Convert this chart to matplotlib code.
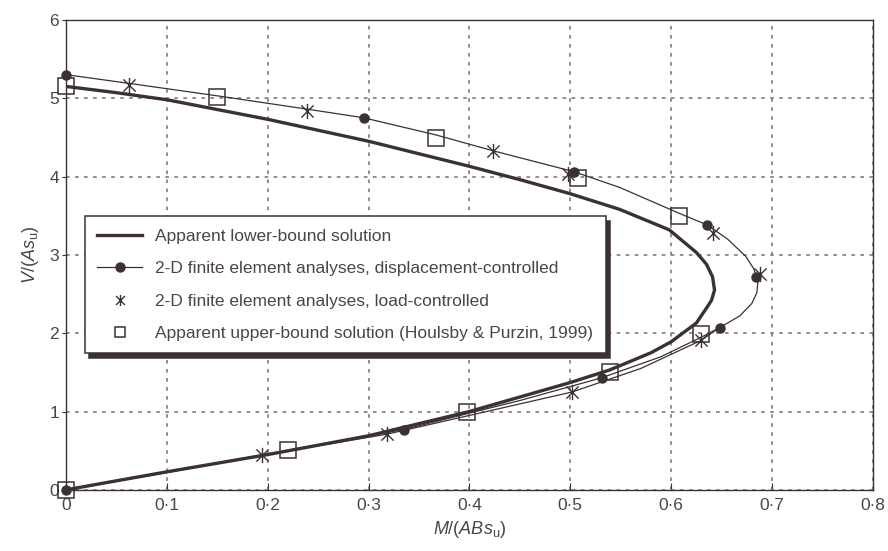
import matplotlib
matplotlib.use('Agg')
import matplotlib.pyplot as plt
from matplotlib.path import Path
from matplotlib.lines import Line2D

INK = '#3b3131'
TEXT = '#4d4545'
GRID = '#8c8484'

plt.rcParams['font.family'] = ['Liberation Sans', 'DejaVu Sans']
plt.rcParams['mathtext.fontset'] = 'custom'
plt.rcParams['mathtext.rm'] = 'Liberation Sans'
plt.rcParams['mathtext.it'] = 'Liberation Sans:italic'

# apparent lower-bound solution (thick curve)
lb_m = [0, 0.05, 0.1, 0.2, 0.3, 0.4, 0.45, 0.5, 0.549, 0.598, 0.625, 0.635,
        0.641, 0.643, 0.64, 0.635, 0.625, 0.6, 0.58, 0.539, 0.5, 0.4, 0.3, 0.2, 0.1, 0]
lb_v = [5.15, 5.07, 4.98, 4.73, 4.45, 4.13, 3.96, 3.78, 3.58, 3.32, 3.03, 2.88,
        2.72, 2.55, 2.42, 2.32, 2.13, 1.89, 1.75, 1.53, 1.37, 1.0, 0.69, 0.45, 0.23, 0]

# thin curve through displacement-controlled results
dc_line_m = [0, 0.062, 0.15, 0.239, 0.295, 0.367, 0.423, 0.504, 0.549, 0.608, 0.636,
             0.656, 0.674, 0.682, 0.686, 0.685, 0.680, 0.668, 0.648, 0.63, 0.59, 0.531,
             0.45, 0.335, 0.2, 0.1, 0]
dc_line_v = [5.30, 5.19, 5.03, 4.86, 4.75, 4.53, 4.33, 4.06, 3.86, 3.53, 3.38,
             3.2, 2.98, 2.82, 2.66, 2.52, 2.38, 2.22, 2.07, 1.95, 1.7, 1.43,
             1.14, 0.77, 0.46, 0.23, 0]

# thin line through load-controlled results (lower branch)
lc_line_m = [0.648, 0.63, 0.57, 0.502, 0.4, 0.318, 0.194, 0.1, 0]
lc_line_v = [2.07, 1.91, 1.55, 1.25, 0.95, 0.71, 0.44, 0.22, 0]

# displacement-controlled points
dc_m = [0, 0.295, 0.504, 0.636, 0.684, 0.648, 0.531, 0.335, 0]
dc_v = [5.30, 4.75, 4.06, 3.38, 2.72, 2.07, 1.43, 0.77, 0]

# load-controlled points
lc_m = [0.062, 0.239, 0.423, 0.498, 0.641, 0.688, 0.630, 0.502, 0.318, 0.194]
lc_v = [5.17, 4.84, 4.32, 4.03, 3.28, 2.76, 1.91, 1.25, 0.71, 0.44]

# apparent upper-bound solution
ub_m = [0, 0.15, 0.367, 0.508, 0.608, 0.630, 0.539, 0.398, 0.22, 0]
ub_v = [5.15, 5.01, 4.49, 3.98, 3.49, 1.99, 1.51, 1.0, 0.51, 0]

x_ticks = [0, 0.1, 0.2, 0.3, 0.4, 0.5, 0.6, 0.7, 0.8]
x_labels = ['0', '0·1', '0·2', '0·3', '0·4', '0·5', '0·6', '0·7', '0·8']
y_ticks = [0, 1, 2, 3, 4, 5, 6]

labels = ['Apparent lower-bound solution',
          '2-D finite element analyses, displacement-controlled',
          '2-D finite element analyses, load-controlled',
          'Apparent upper-bound solution (Houlsby & Purzin, 1999)']

# asterisk marker: vertical stroke plus an X
star = Path([(0, -1), (0, 1), (-0.8, -0.8), (0.8, 0.8), (-0.8, 0.8), (0.8, -0.8)],
            [Path.MOVETO, Path.LINETO] * 3)

fig = plt.figure(figsize=(8.88, 5.51), dpi=100)
ax = fig.add_axes([0.0743, 0.111, 0.9087, 0.853])

ax.plot(lb_m, lb_v, color=INK, lw=2.4, zorder=3, solid_joinstyle='round')
ax.plot(dc_line_m, dc_line_v, color=INK, lw=0.9, zorder=3)
ax.plot(lc_line_m, lc_line_v, color=INK, lw=0.9, zorder=3)
ax.plot(dc_m, dc_v, 'o', color=INK, ms=6.5, zorder=4, clip_on=False)
ax.plot(lc_m, lc_v, ls='none', marker=star, ms=11, mec=INK, mfc='none', mew=1.0, zorder=4)
ax.plot(ub_m, ub_v, 's', ms=12, mec=INK, mfc='none', mew=1.1, zorder=4, clip_on=False)

ax.set_xlim(0, 0.8)
ax.set_ylim(0, 6)
ax.set_xticks(x_ticks)
ax.set_xticklabels(x_labels)
ax.set_yticks(y_ticks)
ax.grid(True, color=GRID, lw=1.3, linestyle=(0, (2, 3)))
ax.set_axisbelow(True)
ax.tick_params(axis='x', direction='in', length=5, color=INK, labelcolor=TEXT,
               labelsize=12.5, pad=6)
ax.tick_params(axis='y', direction='out', length=3, color=INK, labelcolor=TEXT,
               labelsize=12.5, pad=2)
for s in ax.spines.values():
    s.set_color(INK)
    s.set_linewidth(1.0)

ax.set_xlabel(r'$M/(ABs_{\mathrm{u}})$', fontsize=13, color=TEXT, labelpad=4)
ax.set_ylabel(r'$V/(As_{\mathrm{u}})$', fontsize=13, color=TEXT, labelpad=6)

handles = [Line2D([], [], color=INK, lw=2.4),
           Line2D([], [], color=INK, lw=0.9, marker='o', ms=6.5),
           Line2D([], [], ls='none', marker=star, ms=8, mec=INK, mfc='none', mew=1.0),
           Line2D([], [], ls='none', marker='s', ms=7, mec=INK, mfc='none', mew=1.1)]
leg = ax.legend(handles, labels, loc='upper left', bbox_to_anchor=(0.019, 3.49),
                bbox_transform=ax.transData, fontsize=12.5, frameon=True,
                fancybox=False, borderpad=0.7, labelspacing=1.0,
                handlelength=2.6, handletextpad=0.75, borderaxespad=0,
                labelcolor=TEXT,
                shadow={'ox': 3, 'oy': -3, 'facecolor': INK, 'edgecolor': INK, 'alpha': 1})
leg.get_frame().set_edgecolor(INK)
leg.get_frame().set_linewidth(1.1)
leg.get_frame().set_facecolor('white')
leg.set_zorder(5)

fig.savefig('out.png', dpi=100)
